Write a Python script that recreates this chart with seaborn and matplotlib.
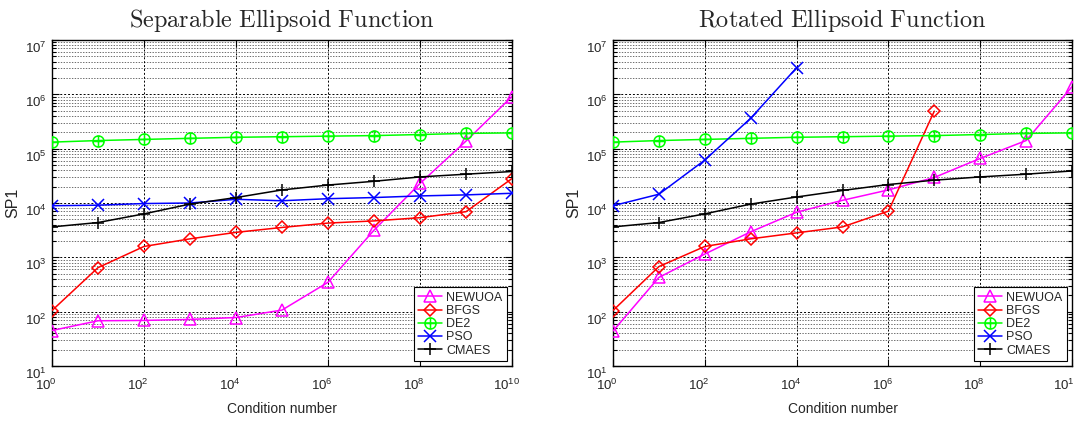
import numpy as np
import pandas as pd
import matplotlib
matplotlib.use("Agg")
import matplotlib.pyplot as plt
import seaborn as sns
from matplotlib.path import Path
from matplotlib.transforms import ScaledTranslation
from matplotlib.ticker import FixedLocator, LogLocator, NullLocator, NullFormatter

# ---------------- data ----------------
condition = [1e0, 1e1, 1e2, 1e3, 1e4, 1e5, 1e6, 1e7, 1e8, 1e9, 1e10]
x_ticks = [1e0, 1e2, 1e4, 1e6, 1e8, 1e10]

newuoa_sep = [45, 68, 69, 72, 78, 107, 347, 3160, 22900, 138000, 912000]
bfgs_sep = [105, 646, 1585, 2190, 2880, 3550, 4270, 4680, 5370, 6920, 28200]
de2_sep = [132000, 141000, 148000, 155000, 162000, 166000, 170000, 174000, 182000, 191000, 195000]
pso_sep = [8910, 9120, 9770, 10000, 11700, 11000, 12000, 12600, 13500, 14100, 15100]
cmaes_sep = [3630, 4370, 6310, 9550, 12600, 17400, 21400, 25100, 30200, 33900, 38000]

newuoa_rot = [44, 427, 1150, 2950, 6760, 11200, 17400, 29500, 66100, 141000, 1380000]
bfgs_rot = [105, 676, 1585, 2190, 2820, 3630, 7080, 490000]
de2_rot = [132000, 141000, 148000, 155000, 162000, 166000, 170000, 174000, 182000, 191000, 195000]
pso_rot = [8910, 14500, 61700, 363000, 3090000]
cmaes_rot = [3630, 4370, 6310, 9550, 12900, 17000, 21900, 26300, 30200, 33900, 38900]

series_names = ["NEWUOA", "BFGS", "DE2", "PSO", "CMAES"]
titles = ["Separable Ellipsoid Function", "Rotated Ellipsoid Function"]

# ---------------- style ----------------
sns.set_style("ticks")
plt.rcParams["font.family"] = ["Liberation Sans", "DejaVu Sans"]
plt.rcParams["mathtext.fontset"] = "custom"
plt.rcParams["mathtext.rm"] = "Liberation Sans"
plt.rcParams["mathtext.it"] = "Liberation Sans:italic"
plt.rcParams["mathtext.bf"] = "Liberation Sans:bold"

circ = Path.unit_circle()
plus = Path([[-1, 0], [1, 0], [0, -1], [0, 1]],
            [Path.MOVETO, Path.LINETO, Path.MOVETO, Path.LINETO])
oplus = Path.make_compound_path(circ, plus)

colors = {"NEWUOA": "#ff00ff", "BFGS": "#ff0000", "DE2": "#00ff00",
          "PSO": "#0000ff", "CMAES": "#000000"}
markers = {"NEWUOA": "^", "BFGS": "D", "DE2": oplus, "PSO": "x", "CMAES": "+"}
msizes = {"NEWUOA": 8, "BFGS": 6, "DE2": 8, "PSO": 8, "CMAES": 9}

fig = plt.figure(figsize=(10.74, 4.21), dpi=100)
ax1 = fig.add_axes([52 / 1074, 1 - 366 / 421, 460 / 1074, 326 / 421])
ax2 = fig.add_axes([613 / 1074, 1 - 366 / 421, 459 / 1074, 326 / 421])
axes = [ax1, ax2]

datasets = [
    {"NEWUOA": newuoa_sep, "BFGS": bfgs_sep, "DE2": de2_sep, "PSO": pso_sep, "CMAES": cmaes_sep},
    {"NEWUOA": newuoa_rot, "BFGS": bfgs_rot, "DE2": de2_rot, "PSO": pso_rot, "CMAES": cmaes_rot},
]

for ax, data, title in zip(axes, datasets, titles):
    ax.set_xscale("log")
    ax.set_yscale("log")
    for name in series_names:
        vals = data[name]
        df = pd.DataFrame({"cond": condition[:len(vals)], "sp1": vals})
        sns.lineplot(data=df, x="cond", y="sp1", ax=ax, color=colors[name],
                     marker=markers[name], markersize=msizes[name],
                     markeredgecolor=colors[name], markerfacecolor="none",
                     markeredgewidth=1.1, linewidth=1.1, label=name,
                     legend=False, zorder=3)
    ax.set_xlim(1, 1e10)
    ax.set_ylim(10, 1e7)
    ax.xaxis.set_major_locator(FixedLocator(x_ticks))
    ax.xaxis.set_minor_locator(NullLocator())
    ax.yaxis.set_major_locator(LogLocator(base=10, numticks=20))
    ax.yaxis.set_minor_locator(LogLocator(base=10, subs=np.arange(2, 10), numticks=20))
    ax.yaxis.set_minor_formatter(NullFormatter())
    ax.grid(True, which="major", axis="both", color="black", linestyle=(0, (2, 2)), linewidth=0.7)
    ax.grid(True, which="minor", axis="y", color="black", linestyle=(0, (2, 2)), linewidth=0.5, alpha=0.8)
    ax.tick_params(which="both", direction="in", top=True, right=True, labelsize=9.5,
                   width=0.8, color="black")
    ax.tick_params(which="major", length=5)
    ax.tick_params(which="minor", length=3)
    ax.tick_params(axis="y", pad=4)
    ax.tick_params(axis="x", pad=3)
    for sp in ax.spines.values():
        sp.set_color("black")
        sp.set_linewidth(1.0)
    ax.set_xlabel("Condition number", fontsize=10, labelpad=6)
    ax.set_ylabel("SP1", fontsize=11.5, labelpad=3)
    ax.set_title(r"$\mathrm{" + title.replace(" ", r"\ ") + "}$", fontsize=17.5,
                 math_fontfamily="cm", pad=9)
    handles, labels = ax.get_legend_handles_labels()
    leg = ax.legend(handles, labels, loc="lower right", fontsize=9, frameon=True,
                    fancybox=False, framealpha=1, edgecolor="black", labelspacing=0.1,
                    handlelength=1.9, handletextpad=0.35, borderpad=0.35, borderaxespad=0.4)
    leg.get_frame().set_linewidth(0.8)

# MATLAB-like placement of the tick labels (exponent at the tick, base below)
fig.canvas.draw()
xoff = ScaledTranslation(-6 / 100, -8 / 100, fig.dpi_scale_trans)
yoff = ScaledTranslation(0, -7 / 100, fig.dpi_scale_trans)
for ax in axes:
    for t in ax.xaxis.get_major_ticks():
        t.label1.set_transform(t.label1.get_transform() + xoff)
    for t in ax.yaxis.get_major_ticks():
        t.label1.set_transform(t.label1.get_transform() + yoff)

fig.savefig("out.png", dpi=100)
